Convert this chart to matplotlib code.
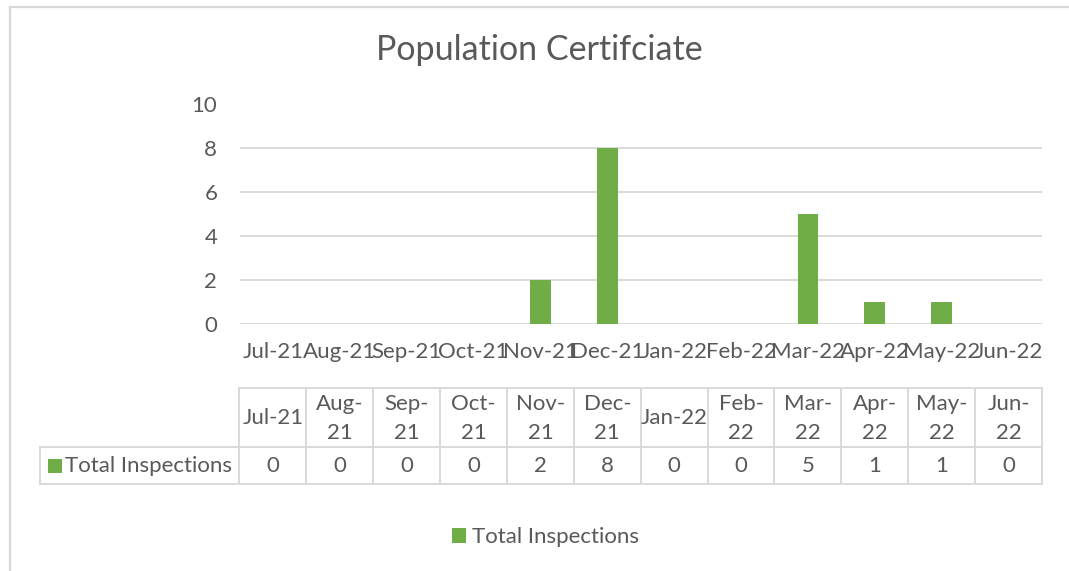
import matplotlib
matplotlib.use("Agg")
import matplotlib.pyplot as plt
from matplotlib.lines import Line2D
from matplotlib.patches import Rectangle, Patch
from matplotlib.transforms import blended_transform_factory

# ---- data ----
categories = ["Jul-21", "Aug-21", "Sep-21", "Oct-21", "Nov-21", "Dec-21",
              "Jan-22", "Feb-22", "Mar-22", "Apr-22", "May-22", "Jun-22"]
table_headers = ["Jul-21", "Aug-\n21", "Sep-\n21", "Oct-\n21", "Nov-\n21", "Dec-\n21",
                 "Jan-22", "Feb-\n22", "Mar-\n22", "Apr-\n22", "May-\n22", "Jun-\n22"]
total_inspections = [0, 0, 0, 0, 2, 8, 0, 0, 5, 1, 1, 0]
series_name = "Total Inspections"
title = "Population Certifciate"
yticks = [0, 2, 4, 6, 8, 10]

# ---- style ----
W, H = 1069, 571
DPI = 100
GREEN = "#70AD47"
TEXT = "#595959"
GRID = "#D9D9D9"
FONT = ["Lato", "DejaVu Sans"]
plt.rcParams["font.family"] = FONT
FS = 16

fig = plt.figure(figsize=(W / DPI, H / DPI), dpi=DPI)
fig.patch.set_facecolor("white")

def fx(px):
    return px / W

def fy(py):
    return 1 - py / H

# plot area
left_px, right_px, top_px, bot_px = 239.5, 1042, 104.5, 324
ax = fig.add_axes([fx(left_px), fy(bot_px), fx(right_px) - fx(left_px), fy(top_px) - fy(bot_px)])
x = list(range(len(categories)))
ax.bar(x, total_inspections, width=0.31, color=GREEN, zorder=3)
ax.set_xlim(-0.5, len(categories) - 0.5)
ax.set_ylim(0, 10)
ax.set_yticks(yticks)
ax.set_yticklabels([str(v) for v in yticks])
ax.set_xticks(x)
ax.set_xticklabels(categories)
for s in ax.spines.values():
    s.set_visible(False)
ax.grid(axis="y", color=GRID, linewidth=1.4, zorder=0)
ax.set_axisbelow(True)
ax.tick_params(axis="both", length=0, colors=TEXT, labelsize=FS)
ax.tick_params(axis="y", pad=16)
ax.tick_params(axis="x", pad=13)
ax.set_facecolor("none")

# title
fig.text(0.5 * (fx(375) + fx(704)), fy(50), title, ha="center", va="center",
         fontsize=24.5, color=TEXT)

# chart border (left & top)
fig.add_artist(Line2D([fx(9.5), fx(9.5)], [fy(6.5), fy(H + 5)], color=GRID, lw=1.6,
                      transform=fig.transFigure))
fig.add_artist(Line2D([fx(9.5), fx(W + 5)], [fy(6.5), fy(6.5)], color=GRID, lw=1.6,
                      transform=fig.transFigure))

# ---- data table ----
fig.canvas.draw()
to_fig = ax.transData + fig.transFigure.inverted()
def dx(xv):
    return to_fig.transform((xv, 0))[0]

tb_top, tb_mid, tb_bot = 388.3, 446.7, 484.3
label_left = 39.5
n = len(categories)
lw_tab = 1.4
# horizontal lines
fig.add_artist(Line2D([dx(-0.5), dx(n - 0.5)], [fy(tb_top)] * 2, color=GRID, lw=lw_tab,
                      transform=fig.transFigure))
for yy in (tb_mid, tb_bot):
    fig.add_artist(Line2D([fx(label_left), dx(n - 0.5)], [fy(yy)] * 2, color=GRID, lw=lw_tab,
                          transform=fig.transFigure))
# vertical lines
fig.add_artist(Line2D([fx(label_left)] * 2, [fy(tb_mid), fy(tb_bot)], color=GRID, lw=lw_tab,
                      transform=fig.transFigure))
for i in range(n + 1):
    xv = dx(i - 0.5)
    fig.add_artist(Line2D([xv, xv], [fy(tb_top), fy(tb_bot)], color=GRID, lw=lw_tab,
                          transform=fig.transFigure))

btf = blended_transform_factory(ax.transData, fig.transFigure)
for i, (hdr, val) in enumerate(zip(table_headers, total_inspections)):
    fig.text(i, fy((tb_top + tb_mid) / 2 + 1), hdr, transform=btf, ha="center", va="center",
             fontsize=FS, color=TEXT, linespacing=1.55)
    fig.text(i, fy((tb_mid + tb_bot) / 2 + 1), str(val), transform=btf, ha="center",
             va="center", fontsize=FS, color=TEXT)

# row label with legend key
fig.add_artist(Rectangle((fx(48), fy(472.5)), fx(62) - fx(48), fy(458.5) - fy(472.5),
                         transform=fig.transFigure, facecolor=GREEN, edgecolor="none"))
fig.text(fx(65), fy((tb_mid + tb_bot) / 2 + 1), series_name, ha="left", va="center",
         fontsize=FS, color=TEXT)

# legend
handle = Patch(facecolor=GREEN, edgecolor="none", label=series_name)
fig.legend(handles=[handle], loc="center", bbox_to_anchor=(fx(545), fy(537)),
           frameon=False, fontsize=FS, labelcolor=TEXT, handlelength=0.65,
           handleheight=0.65, handletextpad=0.25, borderpad=0, borderaxespad=0)

fig.savefig("out.png", dpi=DPI, facecolor="white")
